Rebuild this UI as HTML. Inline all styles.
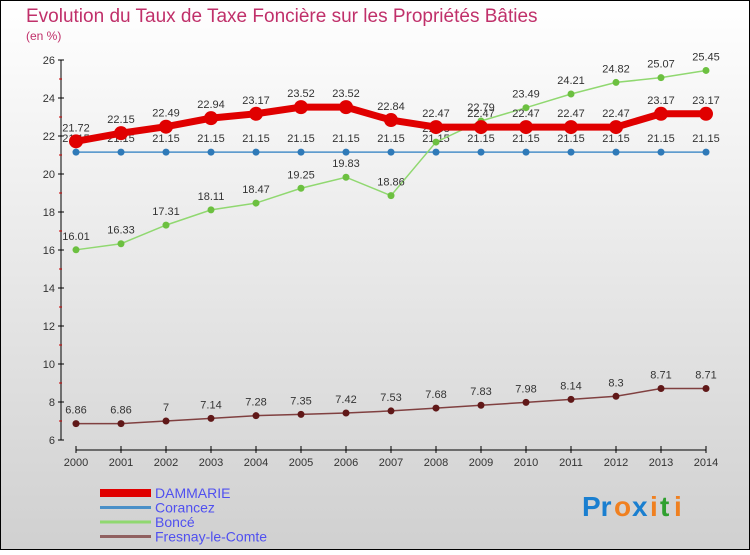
<!DOCTYPE html>
<html><head><meta charset="utf-8"><style>
html,body{margin:0;padding:0}
body{width:750px;height:550px;overflow:hidden;font-family:"Liberation Sans",sans-serif}
</style></head><body>
<svg width="750" height="550" xmlns="http://www.w3.org/2000/svg">
<defs><linearGradient id="bg" x1="0" y1="0" x2="0" y2="1"><stop offset="0" stop-color="#ffffff"/><stop offset="1" stop-color="#d0d0d0"/></linearGradient></defs>
<rect x="0.5" y="0.5" width="749" height="549" fill="url(#bg)" stroke="#000"/>
<text x="26" y="22" font-size="19" fill="#c0306a">Evolution du Taux de Taxe Foncière sur les Propriétés Bâties</text>
<text x="26" y="40" font-size="12" fill="#c0306a">(en %)</text>
<g id="axes"></g><g id="series"></g><g id="legend"></g>
<g font-size="28" font-weight="bold">
<text x="582" y="516" fill="#1a7fd0">Pr</text><text x="614" y="516" fill="#f08020">o</text><text x="632" y="516" fill="#1a7fd0">x</text><text x="650" y="516" fill="#f08020">i</text><text x="660" y="516" fill="#30a030">t</text><text x="674" y="516" fill="#f08020">i</text>
</g>
</svg>
<script>
const years=["2000","2001","2002","2003","2004","2005","2006","2007","2008","2009","2010","2011","2012","2013","2014"];
const yTicks=[6,8,10,12,14,16,18,20,22,24,26];
const dammarie=[21.72,22.15,22.49,22.94,23.17,23.52,23.52,22.84,22.47,22.47,22.47,22.47,22.47,23.17,23.17];
const corancez=[21.15,21.15,21.15,21.15,21.15,21.15,21.15,21.15,21.15,21.15,21.15,21.15,21.15,21.15,21.15];
const bonce=[16.01,16.33,17.31,18.11,18.47,19.25,19.83,18.86,21.68,22.79,23.49,24.21,24.82,25.07,25.45];
const fresnay=[6.86,6.86,7,7.14,7.28,7.35,7.42,7.53,7.68,7.83,7.98,8.14,8.3,8.71,8.71];
const NS="http://www.w3.org/2000/svg";
const X=i=>76+i*45, Y=v=>60+(26-v)*19;
function mk(t,a,p){const e=document.createElementNS(NS,t);for(const k in a)e.setAttribute(k,a[k]);p.appendChild(e);return e;}
const ax=document.getElementById('axes');
let l=mk('line',{x1:61,y1:60,x2:61,y2:440,stroke:'#000'},ax);


l=mk('line',{x1:76,y1:450,x2:706,y2:450,stroke:'#000'},ax);


yTicks.forEach(v=>{
 mk('line',{x1:58,y1:Y(v),x2:64,y2:Y(v),stroke:'#000'},ax);
 if(v<26) mk('line',{x1:59,y1:Y(v+1),x2:62,y2:Y(v+1),stroke:'#c00'},ax);
 const t=mk('text',{x:55,y:Y(v)+4,'text-anchor':'end','font-size':11,fill:'#333'},ax);t.textContent=v;
 
 
});
years.forEach((y,i)=>{
 mk('line',{x1:X(i),y1:446,x2:X(i),y2:453,stroke:'#000'},ax);
 const t=mk('text',{x:X(i),y:466,'text-anchor':'middle','font-size':11,fill:'#333'},ax);t.textContent=y;
 
 
});
const sg=document.getElementById('series');
function series(data,color,w,r,dot,name){
 const g=mk('g',{},sg);
 
 
 const p=mk('polyline',{points:data.map((v,i)=>X(i)+','+Y(v)).join(' '),fill:'none',stroke:color,'stroke-width':w},g);
 
 
 data.forEach((v,i)=>{
  const c=mk('circle',{cx:X(i),cy:Y(v),r:r,fill:dot},g);
  
  
  const t=mk('text',{x:X(i),y:Y(v)-10,'text-anchor':'middle','font-size':11,fill:'#333'},g);t.textContent=v;
  
  
 });
}
series(corancez,'#4a90c8',1.5,3.5,'#2f7ab8','corancez');
series(bonce,'#90d870',1.5,3.5,'#6cc040','bonce');
series(fresnay,'#804040',1.5,3.5,'#601818','fresnay');
series(dammarie,'#e00000',7,7,'#e00000','dammarie');
const lg=document.getElementById('legend');
const leg=[["DAMMARIE","#e00000",8],["Corancez","#4a90c8",3],["Boncé","#90d870",3],["Fresnay-le-Comte","#906060",3]];
leg.forEach((e,i)=>{
 const y=493+i*14.5;
 const g=mk('g',{},lg);
 
 
 mk('line',{x1:100,y1:y,x2:151,y2:y,stroke:e[1],'stroke-width':e[2]},g);
 const t=mk('text',{x:155,y:y+5,'font-size':14,fill:'#5050f0'},g);t.textContent=e[0];
});
</script>
</body></html>
